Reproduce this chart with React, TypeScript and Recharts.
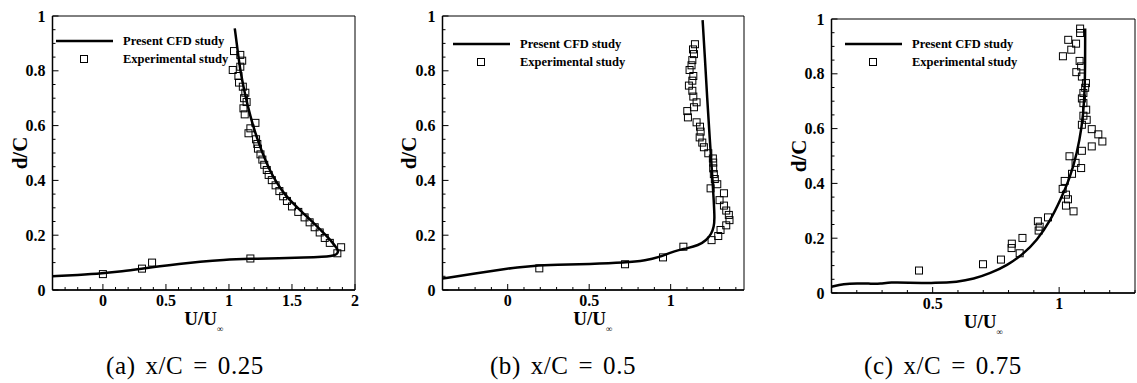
import { ComposedChart, Line, Scatter, XAxis, YAxis, ReferenceArea, Legend } from "recharts";

// (a) x/C = 0.25  -- [U/Uinf, d/C]
const cfdA: [number, number][] = [
  [1.046, 0.955], [1.07, 0.87], [1.09, 0.8], [1.12, 0.73], [1.15, 0.67], [1.19, 0.6],
  [1.23, 0.545], [1.27, 0.495], [1.32, 0.44], [1.38, 0.39], [1.44, 0.35], [1.51, 0.315],
  [1.59, 0.28], [1.66, 0.25], [1.73, 0.218], [1.79, 0.19], [1.83, 0.168], [1.855, 0.153],
  [1.866, 0.143], [1.862, 0.134], [1.845, 0.128], [1.81, 0.124], [1.75, 0.121], [1.6, 0.118],
  [1.4, 0.116], [1.17, 0.114], [0.95, 0.11], [0.77, 0.103], [0.6, 0.095], [0.45, 0.087],
  [0.31, 0.078], [0.15, 0.068], [0, 0.061], [-0.2, 0.055], [-0.4, 0.05],
];
const expA: [number, number][] = [
  [0, 0.058], [0.31, 0.078], [0.39, 0.1], [1.17, 0.115], [1.86, 0.134], [1.89, 0.156],
  [1.8, 0.172], [1.76, 0.19], [1.72, 0.21], [1.68, 0.229], [1.64, 0.247], [1.6, 0.265],
  [1.55, 0.285], [1.5, 0.305], [1.46, 0.325], [1.43, 0.342], [1.4, 0.361], [1.37, 0.382],
  [1.34, 0.401], [1.315, 0.42], [1.3, 0.438], [1.28, 0.457], [1.265, 0.476], [1.25, 0.495],
  [1.23, 0.516], [1.225, 0.533], [1.215, 0.55], [1.21, 0.61], [1.17, 0.59], [1.155, 0.572],
  [1.115, 0.663], [1.125, 0.641], [1.14, 0.686], [1.13, 0.72], [1.12, 0.7], [1.11, 0.742],
  [1.08, 0.757], [1.075, 0.781], [1.03, 0.803], [1.04, 0.872], [1.09, 0.858], [1.105, 0.837],
  [1.09, 0.815],
];

// (b) x/C = 0.5
const cfdB: [number, number][] = [
  [1.196, 0.985], [1.21, 0.85], [1.224, 0.7], [1.24, 0.55], [1.255, 0.42], [1.265, 0.32],
  [1.27, 0.26], [1.265, 0.23], [1.25, 0.205], [1.22, 0.182], [1.17, 0.163], [1.1, 0.152],
  [1.05, 0.146], [1.0, 0.137], [0.93, 0.12], [0.85, 0.108], [0.72, 0.1], [0.5, 0.095],
  [0.3, 0.092], [0.15, 0.088], [0.05, 0.082], [0, 0.078], [-0.2, 0.06], [-0.4, 0.042],
];
const expB: [number, number][] = [
  [0.194, 0.079], [0.72, 0.094], [0.953, 0.119], [1.078, 0.158], [1.251, 0.182], [1.292, 0.197],
  [1.306, 0.219], [1.341, 0.236], [1.361, 0.255], [1.357, 0.274], [1.341, 0.29], [1.327, 0.308],
  [1.3, 0.328], [1.327, 0.353], [1.245, 0.371], [1.286, 0.386], [1.271, 0.405], [1.265, 0.423],
  [1.261, 0.444], [1.261, 0.465], [1.259, 0.48], [1.231, 0.499], [1.204, 0.521], [1.194, 0.538],
  [1.178, 0.557], [1.184, 0.578], [1.18, 0.596], [1.159, 0.612], [1.102, 0.653], [1.106, 0.63],
  [1.143, 0.667], [1.159, 0.685], [1.139, 0.706], [1.133, 0.727], [1.112, 0.746], [1.133, 0.764],
  [1.139, 0.781], [1.116, 0.803], [1.128, 0.82], [1.133, 0.839], [1.143, 0.861], [1.137, 0.878],
  [1.149, 0.897],
];

// (c) x/C = 0.75
const cfdC: [number, number][] = [
  [0.1, 0.023], [0.148, 0.033], [0.2, 0.035], [0.26, 0.034], [0.293, 0.034], [0.333, 0.039],
  [0.398, 0.038], [0.517, 0.036], [0.596, 0.04], [0.662, 0.051], [0.728, 0.072], [0.794, 0.1],
  [0.859, 0.143], [0.912, 0.191], [0.965, 0.264], [1.004, 0.337], [1.044, 0.423], [1.07, 0.508],
  [1.09, 0.605], [1.1, 0.703], [1.103, 0.825], [1.103, 0.965],
];
const expC: [number, number][] = [
  [0.446, 0.082], [0.699, 0.105], [0.77, 0.122], [0.844, 0.145], [0.812, 0.164], [0.813, 0.18],
  [0.855, 0.201], [0.919, 0.228], [0.923, 0.242], [0.916, 0.262], [0.956, 0.276], [1.057, 0.298],
  [1.027, 0.319], [1.035, 0.342], [1.027, 0.359], [1.014, 0.38], [1.022, 0.409], [1.051, 0.435],
  [1.087, 0.456], [1.065, 0.475], [1.041, 0.499], [1.09, 0.519], [1.129, 0.535], [1.171, 0.553],
  [1.155, 0.579], [1.129, 0.598], [1.109, 0.632], [1.09, 0.614], [1.096, 0.647], [1.107, 0.669],
  [1.096, 0.693], [1.09, 0.71], [1.096, 0.73], [1.103, 0.749], [1.106, 0.766], [1.09, 0.79],
  [1.068, 0.806], [1.087, 0.827], [1.081, 0.847], [1.015, 0.864], [1.048, 0.888], [1.067, 0.91],
  [1.036, 0.924], [1.083, 0.949], [1.083, 0.965],
];

const yMajor = [0, 0.2, 0.4, 0.6, 0.8, 1];
const xMajorA = [0, 0.5, 1, 1.5, 2];
const xMajorB = [0, 0.5, 1];
const xMajorC = [0.5, 1];
const captions = ["(a) x/C = 0.25", "(b) x/C = 0.5", "(c) x/C = 0.75"];
const legendNames = ["Present CFD study", "Experimental study"];

const steps = (lo: number, hi: number, step: number) => {
  const out: number[] = [];
  for (let i = 0; lo + i * step <= hi + 1e-9; i++) out.push(Math.round((lo + i * step) * 1000) / 1000);
  return out;
};
const pts = (arr: [number, number][]) => arr.map(([u, v]) => ({ u, v }));
const isMajor = (v: number, major: number[]) => major.some((m) => Math.abs(m - v) < 1e-6);

const FONT = "'Liberation Serif', 'DejaVu Serif', serif";
const PLOT_TOP = 16;
const Y_W = 52.5;

const Square = (p: any) => (
  <rect x={p.cx - 3.5} y={p.cy - 3.5} width={7} height={7} fill="none" stroke="#000" strokeWidth={1} />
);

function Panel(props: {
  cfd: [number, number][];
  exp: [number, number][];
  xDomain: [number, number];
  xMajor: number[];
  left: number;
  top: number;
  width: number;
  marginRight: number;
  legendLeft: number;
  legendTop: number;
}) {
  const { cfd, exp, xDomain, xMajor } = props;
  const xTicks = steps(xDomain[0], xDomain[1], 0.1).filter((v) => v >= xDomain[0] && v <= xDomain[1]);
  const yTicks = steps(0, 1, 0.05);

  const XTick = (p: any) => {
    const v = p.payload.value;
    const major = isMajor(v, xMajor);
    return (
      <g>
        <line x1={p.x} y1={p.y} x2={p.x} y2={p.y - (major ? 6 : 3)} stroke="#000" strokeWidth={1} />
        {major && (
          <text x={p.x} y={p.y + 16} textAnchor="middle" fontFamily={FONT} fontWeight="bold" fontSize={16} fill="#000">
            {String(v)}
          </text>
        )}
      </g>
    );
  };
  const YTick = (p: any) => {
    const v = p.payload.value;
    const major = isMajor(v, yMajor);
    return (
      <g>
        <line x1={p.x} y1={p.y} x2={p.x + (major ? 6 : 3)} y2={p.y} stroke="#000" strokeWidth={1} />
        {major && (
          <text x={p.x - 7} y={p.y} dy="0.35em" textAnchor="end" fontFamily={FONT} fontWeight="bold" fontSize={16} fill="#000">
            {String(v)}
          </text>
        )}
      </g>
    );
  };

  const legend = () => (
    <svg width={200} height={40} style={{ overflow: "visible" }}>
      <line x1={0} y1={10} x2={57} y2={10} stroke="#000" strokeWidth={2.5} />
      <text x={67} y={10} dy="0.35em" fontFamily={FONT} fontWeight="bold" fontSize={12.5} fill="#000">
        {legendNames[0]}
      </text>
      <rect x={24.5} y={24.5} width={7} height={7} fill="none" stroke="#000" strokeWidth={1} />
      <text x={67} y={28} dy="0.35em" fontFamily={FONT} fontWeight="bold" fontSize={12.5} fill="#000">
        {legendNames[1]}
      </text>
    </svg>
  );

  const plotLeft = props.left + Y_W;
  const plotRight = props.left + props.width - props.marginRight;
  const plotTop = props.top + PLOT_TOP;

  return (
    <>
      <div style={{ position: "absolute", left: props.left, top: props.top }}>
        <ComposedChart
          width={props.width}
          height={320}
          margin={{ top: PLOT_TOP, right: props.marginRight, bottom: 0, left: 0 }}
        >
          <XAxis
            dataKey="u"
            type="number"
            domain={xDomain}
            allowDataOverflow
            ticks={xTicks}
            interval={0}
            height={30}
            tickSize={0}
            tickMargin={0}
            tickLine={false}
            tick={XTick}
            axisLine={{ stroke: "#000", strokeWidth: 1.5 }}
          />
          <YAxis
            dataKey="v"
            type="number"
            domain={[0, 1]}
            allowDataOverflow
            ticks={yTicks}
            interval={0}
            width={Y_W}
            tickSize={0}
            tickMargin={0}
            tickLine={false}
            tick={YTick}
            axisLine={{ stroke: "#000", strokeWidth: 1.5 }}
          />
          <ReferenceArea x1={xDomain[0]} x2={xDomain[1]} y1={0} y2={1} fill="none" stroke="#000" strokeWidth={1} />
          <Legend
            layout="horizontal"
            verticalAlign="middle"
            align="center"
            content={legend}
            wrapperStyle={{ left: props.legendLeft, top: props.legendTop, width: 200, height: 40 }}
          />
          <Scatter data={pts(exp)} dataKey="v" shape={Square} isAnimationActive={false} legendType="none" />
          <Line
            data={pts(cfd)}
            dataKey="v"
            type="basis"
            stroke="#000"
            strokeWidth={2.5}
            dot={false}
            activeDot={false}
            isAnimationActive={false}
            legendType="none"
          />
        </ComposedChart>
      </div>
      <div
        style={{
          position: "absolute",
          left: plotLeft - 33 - 30,
          top: plotTop + 137 - 12,
          width: 60,
          height: 24,
          lineHeight: "24px",
          textAlign: "center",
          transform: "rotate(-90deg)",
          fontFamily: FONT,
          fontWeight: "bold",
          fontSize: 21,
        }}
      >
        d/C
      </div>
      <div
        style={{
          position: "absolute",
          left: (plotLeft + plotRight) / 2 - 40,
          top: plotTop + 274 + 19,
          width: 80,
          textAlign: "center",
          fontFamily: FONT,
          fontWeight: "bold",
          fontSize: 19,
          lineHeight: "20px",
        }}
      >
        U/U<sub style={{ fontSize: 9, verticalAlign: -7 }}>∞</sub>
      </div>
    </>
  );
}

export default function App() {
  return (
    <div style={{ position: "absolute", left: 0, top: 0, width: 1137, height: 383, background: "#fff", overflow: "hidden" }}>
      <Panel cfd={cfdA} exp={expA} xDomain={[-0.4, 2]} xMajor={xMajorA} left={0} top={0} width={360.5} marginRight={5.5} legendLeft={56} legendTop={31} />
      <Panel cfd={cfdB} exp={expB} xDomain={[-0.4, 1.45]} xMajor={xMajorB} left={389.5} top={0} width={359.5} marginRight={5.5} legendLeft={63.5} legendTop={34} />
      <Panel cfd={cfdC} exp={expC} xDomain={[0.1, 1.3]} xMajor={xMajorC} left={779} top={2.5} width={358} marginRight={2} legendLeft={66} legendTop={31.5} />
      {captions.map((c, i) => (
        <div
          key={c}
          style={{
            position: "absolute",
            left: [185, 563, 943][i] - 130,
            top: 352,
            width: 260,
            textAlign: "center",
            fontFamily: FONT,
            fontSize: 25,
            letterSpacing: 0.6,
            wordSpacing: 3,
            lineHeight: "28px",
          }}
        >
          {c}
        </div>
      ))}
    </div>
  );
}
